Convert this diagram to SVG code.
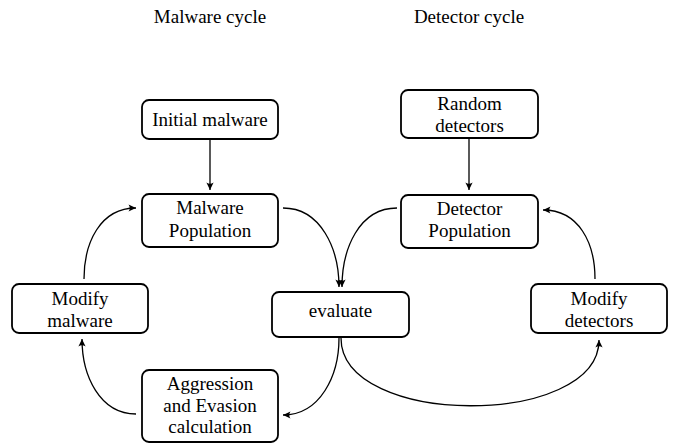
<svg xmlns="http://www.w3.org/2000/svg" width="678" height="445" viewBox="0 0 678 445">
<style>
text{font-family:"Liberation Serif","Times New Roman",Times,"Nimbus Roman","Noto Serif","DejaVu Serif",serif;font-size:19px;fill:#000;text-anchor:middle}
.box{fill:#fff;stroke:#000;stroke-width:1.8}
.edge{fill:none;stroke:#000;stroke-width:1.3;marker-end:url(#arr)}
</style>
<defs>
<marker id="arr" viewBox="-8 -4 9 8" refX="0" refY="0" markerWidth="9" markerHeight="8" markerUnits="userSpaceOnUse" orient="auto">
<path d="M0,0 L-7.5,-3.6 Q-5,0 -7.5,3.6 Z" fill="#000"/>
</marker>
</defs>
<g id="titles">
<text x="210" y="23">Malware cycle</text>
<text x="469" y="23">Detector cycle</text>
</g>
<g id="initial-malware">
<rect class="box" x="142" y="100" width="136" height="39" rx="7"/>
<text x="210" y="126">Initial malware</text>
</g>
<g id="malware-population">
<rect class="box" x="142" y="194" width="136" height="53" rx="7"/>
<text x="210" y="214">Malware</text>
<text x="210" y="237">Population</text>
</g>
<g id="random-detectors">
<rect class="box" x="401" y="90" width="137" height="48" rx="7"/>
<text x="469.5" y="110">Random</text>
<text x="469.5" y="132">detectors</text>
</g>
<g id="detector-population">
<rect class="box" x="401" y="195" width="137" height="53" rx="7"/>
<text x="469.5" y="215">Detector</text>
<text x="469.5" y="237">Population</text>
</g>
<g id="modify-malware">
<rect class="box" x="12" y="284" width="136" height="49" rx="7"/>
<text x="80" y="305">Modify</text>
<text x="80" y="327">malware</text>
</g>
<g id="evaluate">
<rect class="box" x="272" y="292" width="137" height="45" rx="7"/>
<text x="340.5" y="317">evaluate</text>
</g>
<g id="modify-detectors">
<rect class="box" x="531" y="284" width="136" height="49" rx="7"/>
<text x="599" y="305">Modify</text>
<text x="599" y="327">detectors</text>
</g>
<g id="aggression-evasion">
<rect class="box" x="142" y="370" width="136" height="72" rx="7"/>
<text x="210" y="390">Aggression</text>
<text x="210" y="412">and Evasion</text>
<text x="210" y="433">calculation</text>
</g>
<g id="connectors">
<path class="edge" d="M210,139 L210,190"/>
<path class="edge" d="M469,138 L469,190"/>
<path class="edge" d="M283,208 C321,208 339,249 339,287"/>
<path class="edge" d="M397,208 C359,208 342,249 342,287"/>
<path class="edge" d="M339,338 C339,376 320,415 283,415"/>
<path class="edge" d="M341,338 C341,428 599,428 599,340"/>
<path class="edge" d="M136,414 C100,414 82,376 82,339"/>
<path class="edge" d="M84,279 C84,243 100,208 136,208"/>
<path class="edge" d="M595,279 C595,243 579,210 543,210"/>
</g>
</svg>
